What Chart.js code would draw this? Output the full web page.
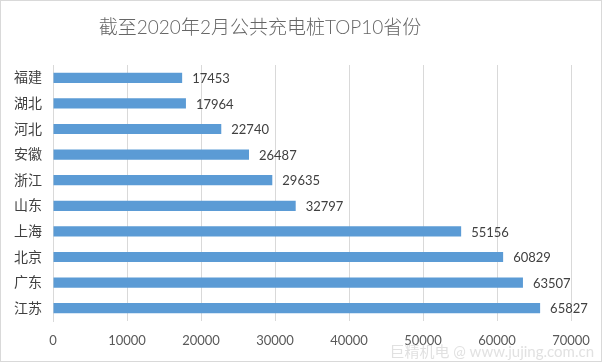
<!DOCTYPE html>
<html>
<head>
<meta charset="utf-8">
<script src="https://cdn.jsdelivr.net/npm/chart.js@4"></script>
<style>
  html, body { margin: 0; padding: 0; background: #fff; }
  canvas { display: block; }
</style>
</head>
<body>
<canvas id="barChart" width="602" height="362"></canvas>
<script>
// data
var titleText = '截至2020年2月公共充电桩TOP10省份';
var provinces = ['福建', '湖北', '河北', '安徽', '浙江', '山东', '上海', '北京', '广东', '江苏'];
var chargers = [17453, 17964, 22740, 26487, 29635, 32797, 55156, 60829, 63507, 65827];
var xTicks = [0, 10000, 20000, 30000, 40000, 50000, 60000, 70000];

var fontFamily = "Lato, 'Noto Sans CJK SC', sans-serif";

// bar end labels
var valueLabels = {
  id: 'valueLabels',
  afterDatasetsDraw: function (chart) {
    var ctx = chart.ctx;
    var meta = chart.getDatasetMeta(0);
    ctx.save();
    ctx.font = '13px ' + fontFamily;
    ctx.fillStyle = '#404040';
    ctx.textAlign = 'left';
    ctx.textBaseline = 'middle';
    meta.data.forEach(function (bar, i) {
      ctx.fillText(String(chargers[i]), bar.x + 10, bar.y + 1);
    });
    ctx.restore();
  }
};

// title, outer frame, watermark
var frame = {
  id: 'frame',
  afterDraw: function (chart) {
    var ctx = chart.ctx;
    ctx.save();
    ctx.font = '300 19px ' + fontFamily;
    ctx.fillStyle = '#666666';
    ctx.textAlign = 'center';
    ctx.textBaseline = 'middle';
    ctx.fillText(titleText, 260, 28);

    ctx.strokeStyle = '#d9d9d9';
    ctx.lineWidth = 1;
    ctx.strokeRect(0.5, 0.5, chart.width - 1, chart.height - 1);

    ctx.font = '15px ' + fontFamily;
    ctx.fillStyle = 'rgba(200,200,200,0.55)';
    ctx.textAlign = 'right';
    ctx.fillText('巨精机电 @ www.jujing.com.cn', chart.width - 8, chart.height - 10);
    ctx.restore();
  }
};

var ctx = document.getElementById('barChart').getContext('2d');
var barChart = new Chart(ctx, {
  type: 'bar',
  data: {
    labels: provinces,
    datasets: [{
      data: chargers,
      backgroundColor: '#5b9bd5',
      borderWidth: 0,
      barPercentage: 0.4,
      categoryPercentage: 1
    }]
  },
  options: {
    indexAxis: 'y',
    responsive: false,
    animation: false,
    layout: { padding: { left: 0, right: 31, top: 65, bottom: 0 } },
    plugins: {
      legend: { display: false },
      tooltip: { enabled: false },
      title: { display: false }
    },
    scales: {
      x: {
        min: 0,
        max: 70000,
        afterBuildTicks: function (scale) {
          scale.ticks = xTicks.map(function (v) { return { value: v }; });
        },
        afterFit: function (scale) { scale.height = 41; },
        grid: { color: '#d9d9d9', drawTicks: false },
        border: { display: false },
        ticks: {
          color: '#595959',
          padding: 12,
          maxRotation: 0,
          font: { family: fontFamily, size: 13 },
          callback: function (v) { return String(v); }
        }
      },
      y: {
        afterFit: function (scale) { scale.width = 53; },
        grid: { display: false, drawTicks: false },
        border: { display: true, color: '#d9d9d9' },
        ticks: {
          color: '#404040',
          padding: 11,
          font: { family: fontFamily, size: 14 }
        }
      }
    }
  },
  plugins: [valueLabels, frame]
});
</script>
</body>
</html>
